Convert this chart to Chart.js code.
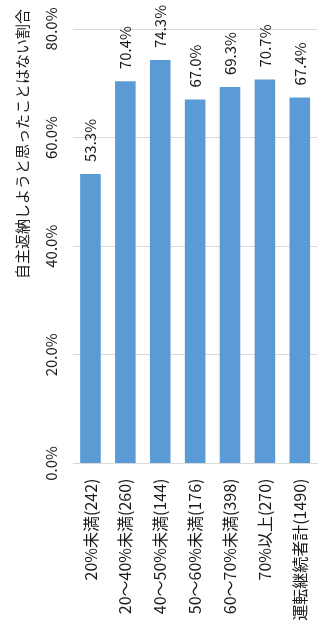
<!DOCTYPE html>
<html>
<head>
<meta charset="utf-8">
<script src="https://cdn.jsdelivr.net/npm/chart.js@4"></script>
<style>
  html, body { margin: 0; padding: 0; overflow: hidden; background: #ffffff; }
  canvas { display: block; }
</style>
</head>
<body>
<canvas id="chart" width="334" height="637"></canvas>
<script>
// Categories: ratio band (respondent count)
const categories = [
  '20%未満(242)',
  '20～40%未満(260)',
  '40～50%未満(144)',
  '50～60%未満(176)',
  '60～70%未満(398)',
  '70%以上(270)',
  '運転継続者計(1490)'
];
// Share who never considered giving up their licence (%)
const shares = [53.3, 70.4, 74.3, 67.0, 69.3, 70.7, 67.4];
// Value axis ticks (%)
const yTicks = [0, 20, 40, 60, 80];
const yTitle = '自主返納しようと思ったことはない割合';

const FONT = '"Noto Sans CJK JP", "Noto Sans", sans-serif';
const TEXT = '#1a1a1a';

// Vertical axis title and value labels above each bar, all drawn rotated.
const rotatedText = {
  id: 'rotatedText',
  afterDatasetsDraw(chart) {
    const ctx = chart.ctx;
    const meta = chart.getDatasetMeta(0);
    const yScale = chart.scales.y;
    ctx.save();
    ctx.fillStyle = TEXT;
    ctx.textBaseline = 'middle';

    // bar value labels
    ctx.font = '15px ' + FONT;
    ctx.textAlign = 'left';
    meta.data.forEach((bar, i) => {
      ctx.save();
      ctx.translate(bar.x, yScale.getPixelForValue(shares[i]) - 12);
      ctx.rotate(-Math.PI / 2);
      ctx.fillText(shares[i].toFixed(1) + '%', 0, 0);
      ctx.restore();
    });

    // axis title
    ctx.font = '15px ' + FONT;
    ctx.textAlign = 'center';
    ctx.save();
    ctx.translate(22, 144);
    ctx.rotate(-Math.PI / 2);
    ctx.fillText(yTitle, 0, 0);
    ctx.restore();

    ctx.restore();
  }
};

new Chart(document.getElementById('chart'), {
  type: 'bar',
  data: {
    labels: categories,
    datasets: [{
      data: shares,
      backgroundColor: '#5b9bd5',
      borderWidth: 0,
      barPercentage: 0.59,
      categoryPercentage: 1.0
    }]
  },
  options: {
    responsive: false,
    animation: false,
    devicePixelRatio: 1,
    layout: { padding: { top: 29, left: 0, right: 0, bottom: 0 } },
    plugins: {
      legend: { display: false },
      tooltip: { enabled: false }
    },
    scales: {
      x: {
        grid: { display: false, drawTicks: false },
        border: { display: true, color: '#d9d9d9', width: 1 },
        ticks: {
          color: TEXT,
          font: { family: FONT, size: 16 },
          minRotation: 90,
          maxRotation: 90,
          autoSkip: false,
          padding: 15
        },
        afterFit(scale) { scale.height = 637 - 29 - 434.5; }
      },
      y: {
        min: 0,
        max: 80,
        afterBuildTicks(scale) { scale.ticks = yTicks.map(v => ({ value: v })); },
        grid: { color: '#d9d9d9', lineWidth: 1, drawTicks: false },
        border: { display: false },
        ticks: {
          color: TEXT,
          font: { family: FONT, size: 15 },
          minRotation: 90,
          maxRotation: 90,
          crossAlign: 'center',
          padding: 0,
          callback: (v) => Number(v).toFixed(1) + '%'
        },
        afterFit(scale) { scale.width = 73; }
      }
    }
  },
  plugins: [rotatedText]
});
</script>
</body>
</html>
